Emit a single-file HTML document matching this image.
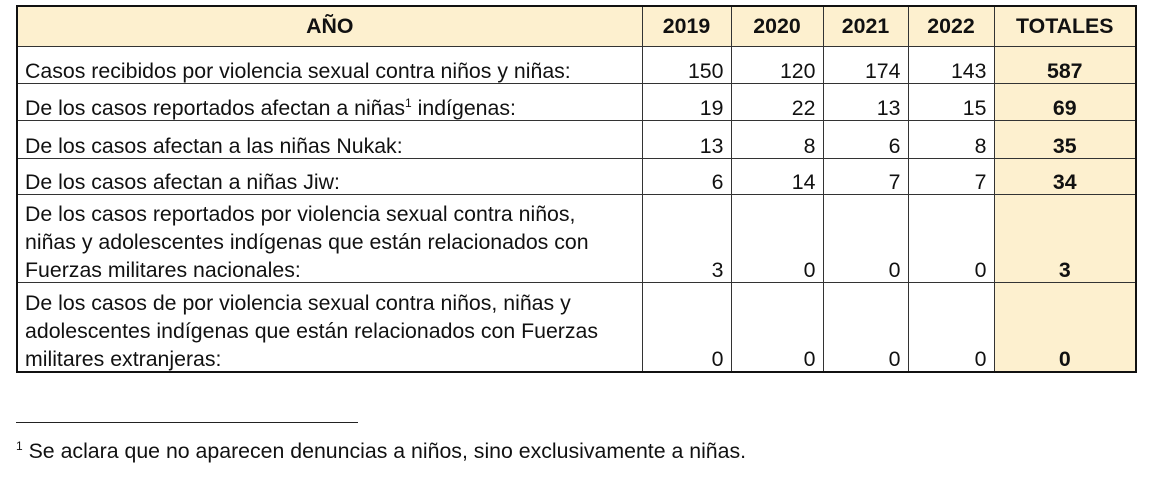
<!DOCTYPE html>
<html><head><meta charset="utf-8"><style>
body{margin:0;background:#fff;width:1170px;height:497px;position:relative;font-family:"Liberation Sans",sans-serif;color:#111;overflow:hidden}
table{position:absolute;left:16px;top:5px;border-collapse:collapse;font-size:21.3px;table-layout:fixed;border:2px solid #111}
td{border:1.5px solid #333;padding:0 7px 0 7px;line-height:28px;vertical-align:bottom;white-space:nowrap;overflow:hidden}
td>div{position:relative;top:2px}
td.n{text-align:right}
td.t{background:#fdf0cf;text-align:center;font-weight:bold}
tr.h td{background:#fdf0cf;font-weight:bold;text-align:center;vertical-align:middle}
tr.h td>div{top:0}
</style></head><body>
<table>
<colgroup><col style="width:625px"><col style="width:89px"><col style="width:92px"><col style="width:85px"><col style="width:86px"><col style="width:142px"></colgroup>
<tr class="h" style="height:40px"><td>AÑO</td><td>2019</td><td>2020</td><td>2021</td><td>2022</td><td>TOTALES</td></tr>
<tr style="height:37px"><td><div>Casos recibidos por violencia sexual contra niños y niñas:</div></td><td class="n"><div>150</div></td><td class="n"><div>120</div></td><td class="n"><div>174</div></td><td class="n"><div>143</div></td><td class="t"><div>587</div></td></tr>
<tr style="height:37px"><td><div>De los casos reportados afectan a niñas<sup style="font-size:12px;line-height:0">1</sup> indígenas:</div></td><td class="n"><div>19</div></td><td class="n"><div>22</div></td><td class="n"><div>13</div></td><td class="n"><div>15</div></td><td class="t"><div>69</div></td></tr>
<tr style="height:38px"><td><div>De los casos afectan a las niñas Nukak:</div></td><td class="n"><div>13</div></td><td class="n"><div>8</div></td><td class="n"><div>6</div></td><td class="n"><div>8</div></td><td class="t"><div>35</div></td></tr>
<tr style="height:36px"><td><div>De los casos afectan a niñas Jiw:</div></td><td class="n"><div>6</div></td><td class="n"><div>14</div></td><td class="n"><div>7</div></td><td class="n"><div>7</div></td><td class="t"><div>34</div></td></tr>
<tr style="height:88px"><td><div>De los casos reportados por violencia sexual contra niños,<br>niñas y adolescentes indígenas que están relacionados con<br>Fuerzas militares nacionales:</div></td><td class="n"><div>3</div></td><td class="n"><div>0</div></td><td class="n"><div>0</div></td><td class="n"><div>0</div></td><td class="t"><div>3</div></td></tr>
<tr style="height:90px"><td><div>De los casos de por violencia sexual contra niños, niñas y<br>adolescentes indígenas que están relacionados con Fuerzas<br>militares extranjeras:</div></td><td class="n"><div>0</div></td><td class="n"><div>0</div></td><td class="n"><div>0</div></td><td class="n"><div>0</div></td><td class="t"><div>0</div></td></tr>
</table>
<div style="position:absolute;left:16px;top:422px;width:342px;border-top:1.5px solid #222"></div>
<div style="position:absolute;left:16px;top:439px;font-size:21.3px;white-space:nowrap"><sup style="font-size:12px">1</sup> Se aclara que no aparecen denuncias a niños, sino exclusivamente a niñas.</div>
</body></html>
